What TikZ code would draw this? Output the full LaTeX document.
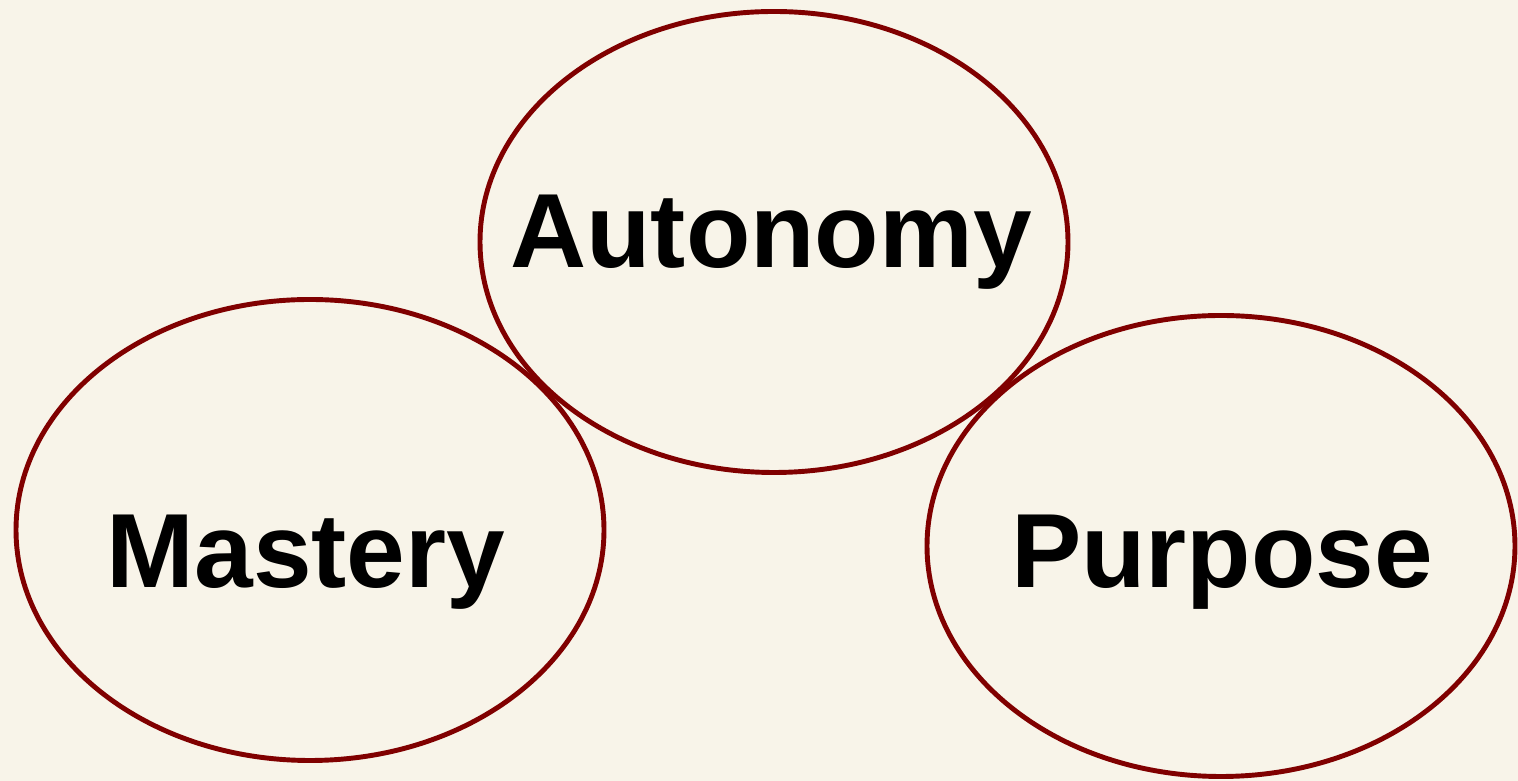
\documentclass[tikz,border=0pt]{standalone}
\usepackage{fontspec}
\setmainfont{Liberation Sans}
\usetikzlibrary{shapes.geometric, positioning}
\definecolor{cream}{RGB}{248, 244, 233}
\definecolor{maroon}{RGB}{128, 0, 0}

\begin{document}
\begin{tikzpicture}[
    ring/.style={
        ellipse,
        draw=#1,
        line width=2.8pt,
        minimum width=11.76cm,
        minimum height=9.22cm
    },
    word/.style={
        anchor=base,
        text=#1,
        font=\bfseries\fontsize{60}{72}\selectfont
    }
]

% page background
\fill[cream] (0,0) rectangle (30.36,15.62);
\useasboundingbox (0,0) rectangle (30.36,15.62);

\node[ring=maroon] (autonomy) at (15.48,10.78) {};
\node[ring=maroon] (mastery) at (6.20,5.02) {};
\node[ring=maroon] (purpose) at (24.42,4.70) {};

\node[word=black] (autonomy_text) at (15.42,10.26) {Autonomy};
\node[word=black] (mastery_text) at (6.12,3.86) {Mastery};
\node[word=black] (purpose_text) at (24.44,3.86) {Purpose};

\end{tikzpicture}
\end{document}
